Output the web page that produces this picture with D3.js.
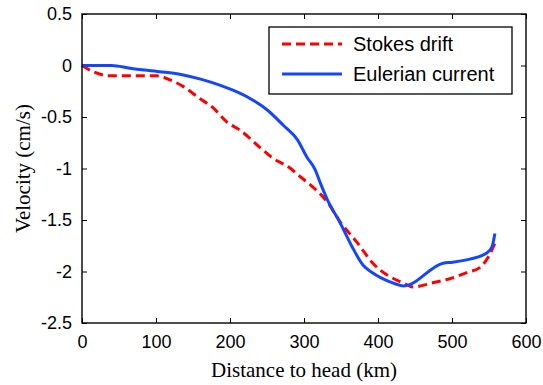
<!DOCTYPE html>
<html>
<head>
<meta charset="utf-8">
<script src="https://cdn.jsdelivr.net/npm/d3@7"></script>
<style>
  body { margin: 0; background: #fff; }
  svg { display: block; }
</style>
</head>
<body>
<div id="chart"></div>
<script>
// distance to head (km) and velocity (cm/s)
var stokesKm = [0, 15, 38, 101, 119, 136, 159, 177, 196, 214, 241, 258, 281, 295, 312, 332,
                349, 372, 393, 416, 434, 447, 474, 497, 520, 538, 549, 559];
var stokesVel = [0, -0.06, -0.10, -0.10, -0.14, -0.20, -0.32, -0.41, -0.55, -0.63, -0.80, -0.90,
                 -0.995, -1.08, -1.18, -1.33, -1.52, -1.72, -1.92, -2.05, -2.11, -2.15, -2.11,
                 -2.07, -2.01, -1.96, -1.86, -1.71];

var eulerKm = [0, 40, 65, 105, 132, 159, 186, 204, 227, 250, 272, 291, 304, 315, 322, 332,
               349, 365, 380, 392, 416, 435, 488, 501, 524, 547, 554, 558];
var eulerVel = [0, 0, -0.027, -0.06, -0.085, -0.13, -0.19, -0.24, -0.32, -0.43, -0.58, -0.72,
                -0.89, -1.01, -1.14, -1.31, -1.53, -1.76, -1.94, -2.01, -2.10, -2.14, -1.92,
                -1.91, -1.88, -1.82, -1.76, -1.63];

var xTicks = [0, 100, 200, 300, 400, 500, 600];
var yTicks = [0.5, 0, -0.5, -1, -1.5, -2, -2.5];
var seriesNames = ["Stokes drift", "Eulerian current"];

var W = 543, H = 385;
var margin = {top: 14, right: 17, bottom: 62, left: 82};
var width = W - margin.left - margin.right,
    height = H - margin.top - margin.bottom;

var svg = d3.select("#chart").append("svg")
    .attr("width", W)
    .attr("height", H);

var g = svg.append("g")
    .attr("transform", `translate(${margin.left},${margin.top})`);

var x = d3.scaleLinear().domain([0, 600]).range([0, width]);
var y = d3.scaleLinear().domain([-2.5, 0.5]).range([height, 0]);

var tickFont = "'Liberation Sans', Arial, sans-serif";
var serif = "'Liberation Serif', 'Times New Roman', serif";

// matlab style: plain hyphen minus
function plain(d) { return String(d); }

// axes with inward ticks on all four sides
function styleAxis(sel) {
  sel.select(".domain").remove();
  sel.selectAll(".tick line").attr("stroke", "#000").attr("stroke-width", 1);
  sel.selectAll("text").attr("font-family", tickFont).attr("font-size", "18px").attr("fill", "#000");
}

g.append("g")
  .attr("transform", `translate(0,${height})`)
  .call(d3.axisBottom(x).tickValues(xTicks).tickSizeInner(-5).tickSizeOuter(0).tickPadding(12)
    .tickFormat(plain))
  .call(styleAxis);

g.append("g")
  .call(d3.axisTop(x).tickValues(xTicks).tickSizeInner(-5).tickSizeOuter(0).tickFormat(""))
  .call(styleAxis);

g.append("g")
  .call(d3.axisLeft(y).tickValues(yTicks).tickSizeInner(-5).tickSizeOuter(0).tickPadding(10)
    .tickFormat(plain))
  .call(styleAxis);

g.append("g")
  .attr("transform", `translate(${width},0)`)
  .call(d3.axisRight(y).tickValues(yTicks).tickSizeInner(-5).tickSizeOuter(0).tickFormat(""))
  .call(styleAxis);

// data lines
var line = d3.line()
  .curve(d3.curveMonotoneX)
  .x(function(d) { return x(d[0]); })
  .y(function(d) { return y(d[1]); });

var stokes = d3.zip(stokesKm, stokesVel);
var euler = d3.zip(eulerKm, eulerVel);

g.append("path")
  .datum(stokes)
  .attr("fill", "none")
  .attr("stroke", "#ff0000")
  .attr("stroke-width", 3)
  .attr("stroke-dasharray", "9,5")
  .attr("stroke-linejoin", "round")
  .attr("d", line);

g.append("path")
  .datum(euler)
  .attr("fill", "none")
  .attr("stroke", "#1446ff")
  .attr("stroke-width", 3)
  .attr("stroke-linejoin", "round")
  .attr("d", line);

// frame
g.append("rect")
  .attr("width", width)
  .attr("height", height)
  .attr("fill", "none")
  .attr("stroke", "#000")
  .attr("stroke-width", 1.4);

// legend
var leg = svg.append("g").attr("transform", "translate(269,27)");
leg.append("rect")
  .attr("width", 243)
  .attr("height", 67)
  .attr("fill", "#fff")
  .attr("stroke", "#000")
  .attr("stroke-width", 1.3);

var legStyles = [
  {color: "#ff0000", dash: "9,5"},
  {color: "#1446ff", dash: null}
];
seriesNames.forEach(function(name, i) {
  var yy = 17 + i * 30;
  leg.append("line")
    .attr("x1", 13).attr("x2", 73)
    .attr("y1", yy).attr("y2", yy)
    .attr("stroke", legStyles[i].color)
    .attr("stroke-width", 3)
    .attr("stroke-dasharray", legStyles[i].dash);
  leg.append("text")
    .attr("x", 84)
    .attr("y", yy + 7)
    .attr("font-family", tickFont)
    .attr("font-size", "20px")
    .text(name);
});

// axis labels
svg.append("text")
  .attr("x", margin.left + width / 2)
  .attr("y", 377)
  .attr("text-anchor", "middle")
  .attr("font-family", serif)
  .attr("font-size", "21px")
  .text("Distance to head (km)");

svg.append("text")
  .attr("transform", `translate(30,${margin.top + height / 2}) rotate(-90)`)
  .attr("text-anchor", "middle")
  .attr("font-family", serif)
  .attr("font-size", "21px")
  .text("Velocity (cm/s)");
</script>
</body>
</html>
